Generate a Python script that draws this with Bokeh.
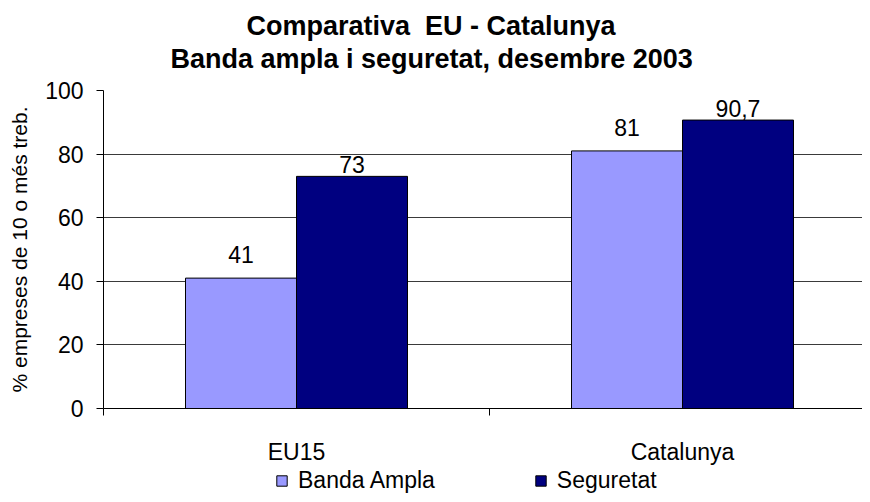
from bokeh.plotting import figure
from bokeh.layouts import column
from bokeh.models import Range1d, FixedTicker, Title, Legend, LegendItem, ColumnDataSource
from bokeh.transform import dodge
from bokeh.embed import file_html
from bokeh.resources import INLINE
from bokeh.core.properties import value

categories = ["EU15", "Catalunya"]
series_names = ["Banda Ampla", "Seguretat"]
series_colors = ["#9999FF", "#000080"]
banda = [41, 81]
seguretat = [73, 90.7]
banda_labels = ["41", "81"]
seguretat_labels = ["73", "90,7"]
y_ticks = [0, 20, 40, 60, 80, 100]
title_lines = ["Comparativa \u00a0EU - Catalunya", "Banda ampla i seguretat, desembre 2003"]
y_title = "% empreses de 10 o més treb."

FONT = "Liberation Sans"
CAT_PX = 386.0
BW = 111 / CAT_PX
FRAME_L = 103
FIG_W = 862

centers = [i + 0.5 for i in range(len(categories))]
bounds = [i for i in range(len(categories) + 1)]
src = ColumnDataSource(dict(x=centers, banda=banda, seg=seguretat,
                            bl=banda_labels, sl=seguretat_labels))

p = figure(width=FIG_W, height=467, output_backend="svg", toolbar_location=None,
           x_range=Range1d(0, (FIG_W - FRAME_L) / CAT_PX), y_range=Range1d(0, 100),
           min_border_left=FRAME_L, min_border_right=0, min_border_top=90, min_border_bottom=54)
p.title.text = ""
p.outline_line_color = None
p.background_fill_color = "white"
p.border_fill_color = "white"

t2 = Title(text=title_lines[1], align="left", offset=67, text_font=FONT,
           text_font_size="27px", text_font_style="bold", text_color="black", standoff=33)
t1 = Title(text=title_lines[0], align="left", offset=143, text_font=FONT,
           text_font_size="27px", text_font_style="bold", text_color="black", standoff=-31)
p.add_layout(t2, "above")
p.add_layout(t1, "above")

# y axis
p.yaxis.ticker = FixedTicker(ticks=y_ticks)
p.yaxis.major_label_text_font = FONT
p.yaxis.major_label_text_font_size = "23px"
p.yaxis.major_label_text_color = "black"
p.yaxis.major_tick_out = 7
p.yaxis.major_tick_in = 0
p.yaxis.major_tick_line_color = "black"
p.yaxis.axis_line_color = "black"
p.yaxis.major_label_standoff = 13
p.yaxis.axis_label = y_title
p.yaxis.axis_label_text_font = FONT
p.yaxis.axis_label_text_font_size = "21px"
p.yaxis.axis_label_text_font_style = "normal"
p.yaxis.axis_label_text_color = "black"
p.yaxis.axis_label_standoff = 11

# x axis
p.xaxis.ticker = FixedTicker(ticks=centers, minor_ticks=bounds)
p.xaxis.major_label_overrides = {c: cat for c, cat in zip(centers, categories)}
p.xaxis.major_label_text_font = FONT
p.xaxis.major_label_text_font_size = "23px"
p.xaxis.major_label_text_color = "black"
p.xaxis.major_tick_line_color = None
p.xaxis.major_tick_out = 0
p.xaxis.major_tick_in = 0
p.xaxis.minor_tick_out = 7
p.xaxis.minor_tick_in = 0
p.xaxis.minor_tick_line_color = "black"
p.xaxis.axis_line_color = "black"
p.xaxis.major_label_standoff = 23

p.xgrid.visible = False
p.ygrid.ticker = FixedTicker(ticks=y_ticks[1:])
p.ygrid.grid_line_color = "#3a3a3a"

r1 = p.vbar(x=dodge("x", -BW / 2, range=p.x_range), top="banda", width=BW, source=src,
            fill_color=series_colors[0], line_color="black", line_width=1)
r2 = p.vbar(x=dodge("x", BW / 2, range=p.x_range), top="seg", width=BW, source=src,
            fill_color=series_colors[1], line_color="black", line_width=1)

p.text(x=dodge("x", -BW / 2, range=p.x_range), y="banda", text="bl", source=src,
       text_align="center", text_baseline="middle", y_offset=-23.5,
       text_font=value(FONT), text_font_size="23px", text_color="black")
p.text(x=dodge("x", BW / 2, range=p.x_range), y="seg", text="sl", source=src,
       text_align="center", text_baseline="middle", y_offset=-11.5,
       text_font=value(FONT), text_font_size="23px", text_color="black")

# legend strip below the chart (bars of this strip lie outside its visible range)
lf = figure(width=FIG_W, height=27, output_backend="svg", toolbar_location=None,
            x_range=Range1d(0, 1), y_range=Range1d(1000, 1001),
            min_border_left=FRAME_L, min_border_right=0, min_border_top=0, min_border_bottom=0)
lf.axis.visible = False
lf.grid.visible = False
lf.outline_line_color = None
lf.title.text = ""
lb1 = lf.vbar(x="x", top="banda", width=0.1, source=src, fill_color=series_colors[0], line_color="black")
lb2 = lf.vbar(x="x", top="seg", width=0.1, source=src, fill_color=series_colors[1], line_color="black")
legend = Legend(items=[LegendItem(label=series_names[0], renderers=[lb1]),
                       LegendItem(label=series_names[1], renderers=[lb2])],
                orientation="horizontal", location=(172, 0))
legend.label_text_font = FONT
legend.label_text_font_size = "23px"
legend.label_text_color = "black"
legend.glyph_width = 13
legend.glyph_height = 13
legend.label_standoff = 10
legend.spacing = 99
legend.padding = 0
legend.margin = 0
legend.border_line_color = None
legend.background_fill_alpha = 0
lf.add_layout(legend, "center")

layout = column(p, lf, spacing=0)
open("out.html", "w").write(file_html(layout, INLINE))
